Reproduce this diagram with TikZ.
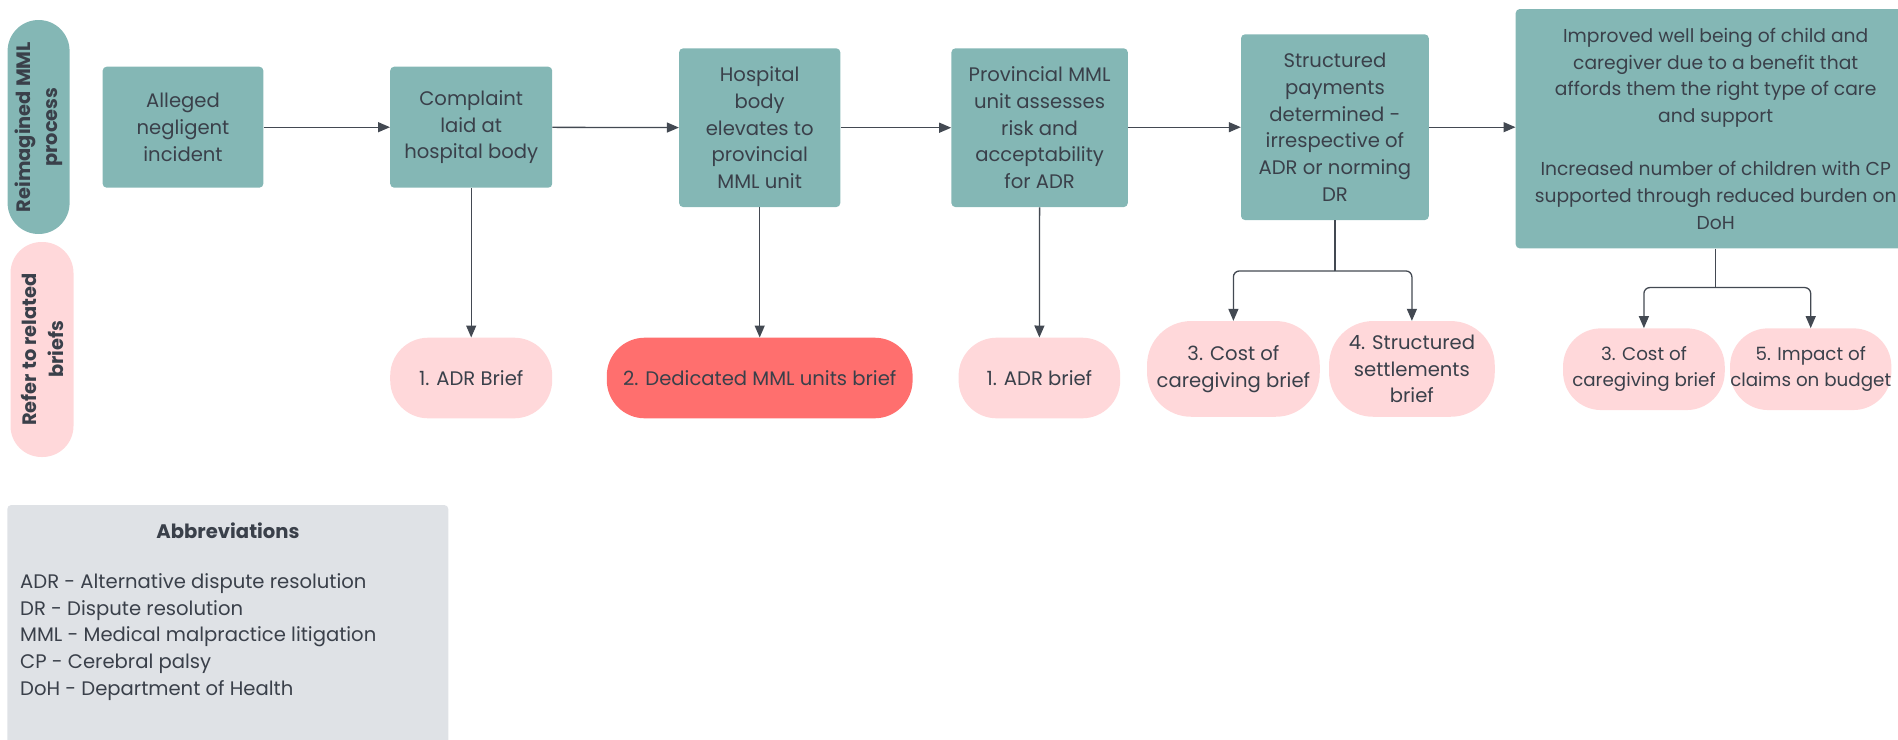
\documentclass[tikz,border=0pt]{standalone}
\usepackage{fontspec}
\setmainfont{Poppins}
\usetikzlibrary{arrows.meta,calc}
\definecolor{teal1}{HTML}{84B7B5}
\definecolor{pink1}{HTML}{FFD8DA}
\definecolor{red1}{HTML}{FF6F6E}
\definecolor{grey1}{HTML}{DFE2E6}
\definecolor{ink}{HTML}{3A404A}
\definecolor{wire}{HTML}{434952}
\newcommand\boxfont{\fontsize{19.6}{26.7}\selectfont}
\newcommand\bigfont{\fontsize{18.7}{26.7}\selectfont}
\newcommand\smallbrief{\fontsize{18.3}{25.5}\selectfont}
\newcommand\sidefont{\fontsize{19.4}{27}\selectfont\bfseries}
\begin{document}
\begin{tikzpicture}[x=1pt,y=-1pt,
  proc/.style={fill=teal1, rounded corners=4pt, text=ink, align=center, inner sep=0pt, font=\boxfont},
  brief/.style={fill=pink1, rounded corners=38pt, text=ink, align=center, inner sep=0pt, font=\boxfont},
  side/.style={rounded corners=31pt, text=ink, align=center, inner sep=0pt, font=\sidefont},
  arr/.style={draw=wire, line width=1.3pt, -{Triangle[length=12pt,width=10pt]}},
  stem/.style={draw=wire, line width=1.3pt}
]
\useasboundingbox (0,0) rectangle (1898,739);
\clip (0,0) rectangle (1898,739);

% side labels
\node[side, fill=teal1, minimum width=62pt, minimum height=214pt] (lane1) at (38.6,127) {};
\node[rotate=90, text=ink, align=center, font=\sidefont] (lane1t) at (lane1.center) {Reimagined MML\\process};
\node[side, fill=pink1, minimum width=63pt, minimum height=215pt] (lane2) at (42,349.5) {};
\node[rotate=90, text=ink, align=center, font=\sidefont] (lane2t) at (lane2.center) {Refer to related\\briefs};

% process boxes
\node[proc, minimum width=160.7pt, minimum height=121pt] (alleged) at (183,127.2) {Alleged\\negligent\\incident};
\node[proc, minimum width=162pt, minimum height=121pt] (complaint) at (471.2,127.2) {Complaint\\laid at\\hospital body};
\node[proc, minimum width=161.2pt, minimum height=158.7pt] (hospital) at (759.7,127.7) {Hospital\\body\\elevates to\\provincial\\MML unit};
\node[proc, minimum width=176.4pt, minimum height=158.7pt] (provincial) at (1039.6,127.7) {Provincial MML\\unit assesses\\risk and\\acceptability\\for ADR};
\node[proc, minimum width=187.8pt, minimum height=185.7pt] (structured) at (1334.9,127.2) {Structured\\payments\\determined -\\irrespective of\\ADR or norming\\DR};
\node[proc, font=\bigfont, minimum width=400pt, minimum height=239.3pt] (big) at (1715.7,128.7) {Improved well being of child and\\caregiver due to a benefit that\\affords them the right type of care\\and support\\[26.7pt]Increased number of children with CP\\supported through reduced burden on\\DoH};

% briefs
\node[brief, minimum width=162pt, minimum height=80.6pt] (adr1) at (471.2,378) {1. ADR Brief};
\node[brief, fill=red1, minimum width=305.8pt, minimum height=80.6pt] (mml) at (759.7,378) {2. Dedicated MML units brief};
\node[brief, minimum width=161.6pt, minimum height=80.6pt] (adr2) at (1039.4,378) {1. ADR brief};
\node[brief, rounded corners=44pt, minimum width=172.7pt, minimum height=95.7pt] (cost1) at (1233.4,368.9) {3. Cost of\\caregiving brief};
\node[brief, rounded corners=44pt, minimum width=165.7pt, minimum height=95.7pt] (settle) at (1411.9,368.9) {4. Structured\\settlements\\brief};
\node[brief, font=\smallbrief, minimum width=161.7pt, minimum height=81.7pt] (cost2) at (1643.9,369.2) {3. Cost of\\caregiving brief};
\node[brief, font=\smallbrief, minimum width=161.3pt, minimum height=81.7pt] (impact) at (1810.7,369.2) {5. Impact of\\claims on budget};

% abbreviations
\node[fill=grey1, rounded corners=4pt, minimum width=441pt, minimum height=260pt, inner sep=0pt] (abbr) at (227.8,635) {};
\node[text=ink, font=\fontsize{19.6}{24}\selectfont\bfseries] (abbrt) at (228,530.7) {Abbreviations};
\node[text=ink, align=left, anchor=west, inner sep=0pt, font=\fontsize{19.6}{26.67}\selectfont] (abbrl) at (20,637) {ADR - Alternative dispute resolution\\DR - Dispute resolution\\MML - Medical malpractice litigation\\CP - Cerebral palsy\\DoH - Department of Health};

% flow arrows
\draw[arr] (alleged) -- (complaint);
\draw[arr] (complaint) -- (hospital);
\draw[arr] (hospital) -- (provincial);
\draw[arr] (provincial.east |- alleged.east) -- (structured.west |- alleged.east);
\draw[arr] (structured.east |- alleged.east) -- (big.west |- alleged.east);

\draw[arr] (complaint.south) -- (adr1.north);
\draw[arr] (hospital.south) -- (mml.north);
\draw[arr] (provincial.south) -- (adr2.north);

\coordinate (j1) at ($(structured.south)+(0,50.7)$);
\draw[stem] (structured.south) -- (j1);
\draw[arr, rounded corners=6pt] (j1) -| (cost1.north);
\draw[arr, rounded corners=6pt] (j1) -| (settle.north);

\coordinate (j2) at ($(big.south)+(0,39)$);
\draw[stem] (big.south) -- (j2);
\draw[arr, rounded corners=6pt] (j2) -| (cost2.north);
\draw[arr, rounded corners=6pt] (j2) -| (impact.north);
\end{tikzpicture}
\end{document}
